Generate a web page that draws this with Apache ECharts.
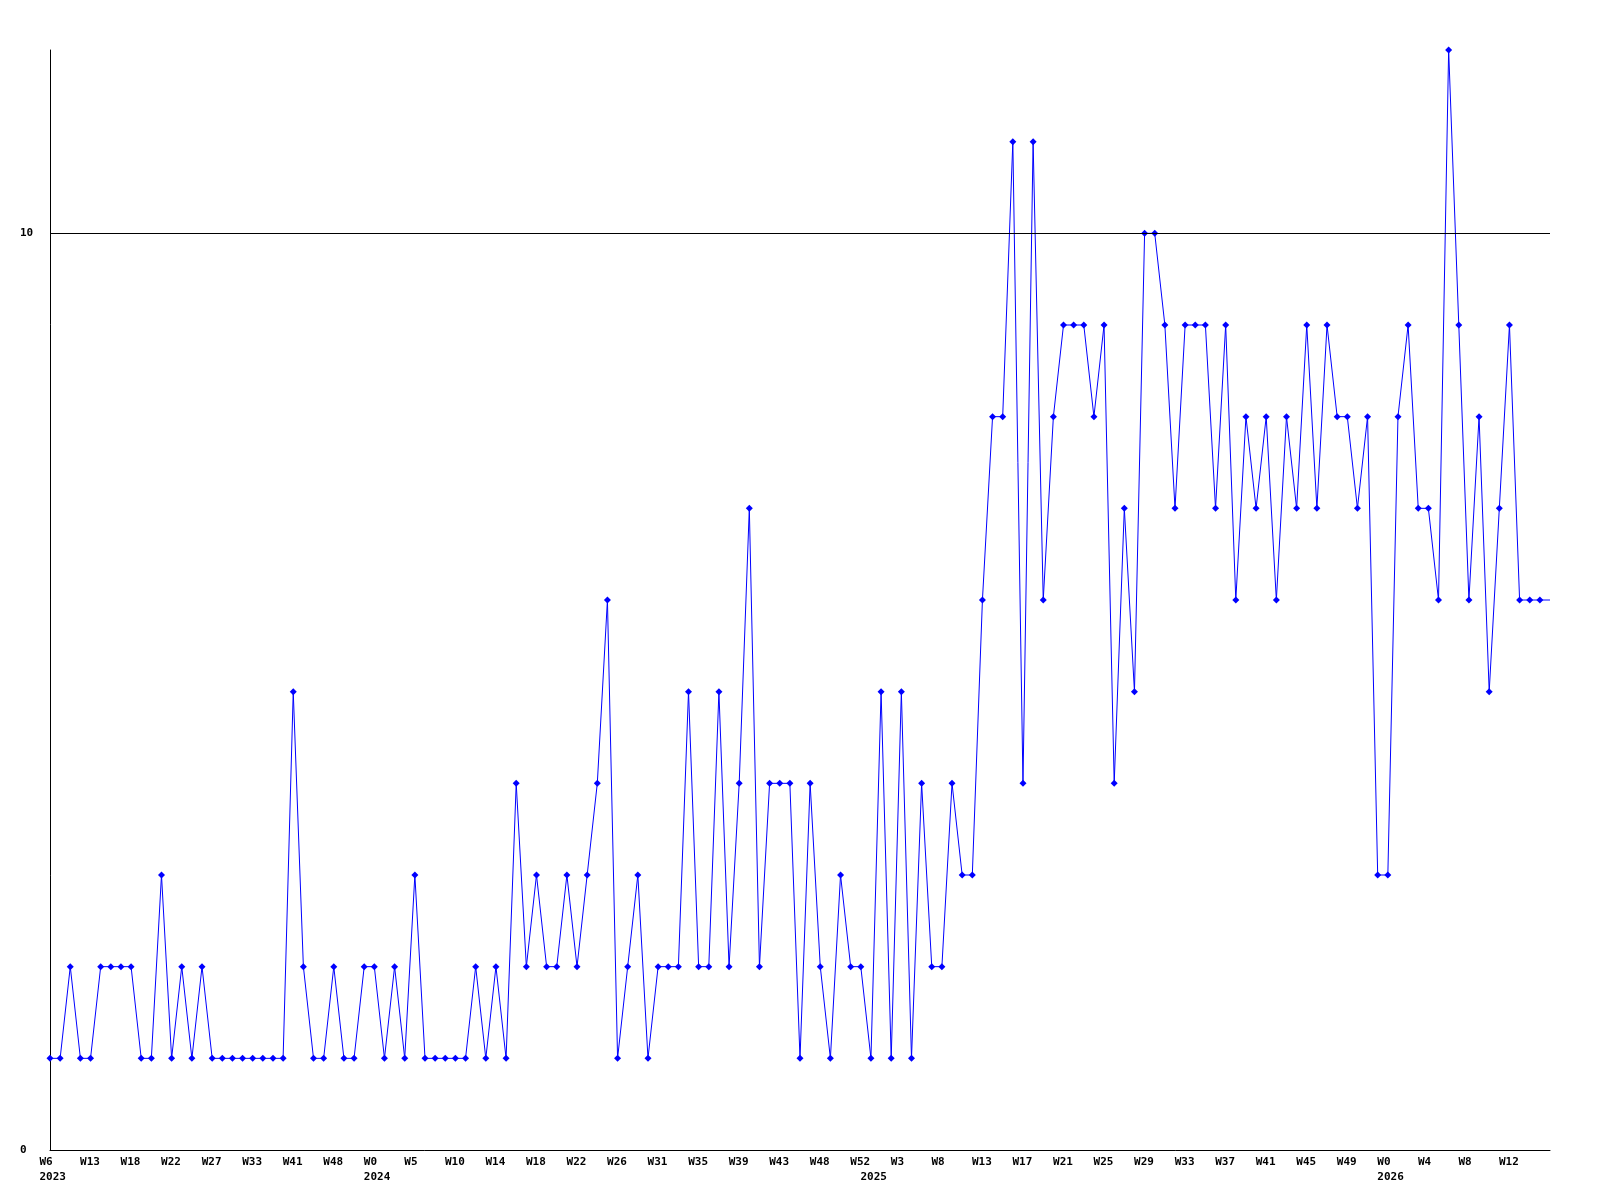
<!DOCTYPE html>
<html>
<head>
<meta charset="utf-8">
<title>Weekly chart</title>
<script src="https://cdn.jsdelivr.net/npm/echarts@6/dist/echarts.min.js"></script>
<style>
  html, body { margin: 0; padding: 0; background: #ffffff; }
  #chart { width: 1600px; height: 1200px; }
</style>
</head>
<body>
<div id="chart"></div>
<script>
// Weekly values (one per week, first = W6 2023). Last value continues the line to the axis end (no marker).
const values = [
  1, 1, 2, 1, 1, 2, 2, 2, 2, 1, 1, 3, 1, 2, 1, 2,
  1, 1, 1, 1, 1, 1, 1, 1, 5, 2, 1, 1, 2, 1, 1, 2,
  2, 1, 2, 1, 3, 1, 1, 1, 1, 1, 2, 1, 2, 1, 4, 2,
  3, 2, 2, 3, 2, 3, 4, 6, 1, 2, 3, 1, 2, 2, 2, 5,
  2, 2, 5, 2, 4, 7, 2, 4, 4, 4, 1, 4, 2, 1, 3, 2,
  2, 1, 5, 1, 5, 1, 4, 2, 2, 4, 3, 3, 6, 8, 8, 11,
  4, 11, 6, 8, 9, 9, 9, 8, 9, 4, 7, 5, 10, 10, 9, 7,
  9, 9, 9, 7, 9, 6, 8, 7, 8, 6, 8, 7, 9, 7, 9, 8,
  8, 7, 8, 3, 3, 8, 9, 7, 7, 6, 12, 9, 6, 8, 5, 7,
  9, 6, 6, 6, 6
];
// Tick labels, one every 4 weeks
const tickLabels = [
  'W6', 'W13', 'W18', 'W22', 'W27', 'W33', 'W41', 'W48',
  'W0', 'W5', 'W10', 'W14', 'W18', 'W22', 'W26', 'W31',
  'W35', 'W39', 'W43', 'W48', 'W52', 'W3', 'W8', 'W13',
  'W17', 'W21', 'W25', 'W29', 'W33', 'W37', 'W41', 'W45',
  'W49', 'W0', 'W4', 'W8', 'W12'
];
// Year labels and the week (point index) where each year starts
const yearLabels = ['2023', '2024', '2025', '2026'];
const yearPointIndex = [0, 32, 81, 132];
const tickStep = 4;
const yMax = 12;
const refLine = 10;

const categories = values.map((v, i) => String(i));
const seriesData = values.map((v, i) =>
  i === values.length - 1 ? { value: v, symbol: 'none' } : v
);

const chart = echarts.init(document.getElementById('chart'), null, { renderer: 'canvas' });
const font = 'DejaVu Sans Mono';

chart.setOption({
  backgroundColor: '#ffffff',
  animation: false,
  grid: { left: 50, right: 50, top: 50, bottom: 50, containLabel: false },
  xAxis: {
    type: 'category',
    data: categories,
    boundaryGap: false,
    axisLine: { show: true, lineStyle: { color: '#000', width: 1 } },
    axisTick: { show: false },
    splitLine: { show: false },
    axisLabel: {
      interval: function (idx) {
        return idx % tickStep === 0 || yearPointIndex.indexOf(idx) >= 0;
      },
      margin: 5,
      align: 'left',
      padding: [0, 0, 0, -10.5],
      color: '#000',
      fontFamily: font,
      fontWeight: 'bold',
      fontSize: 11,
      lineHeight: 15,
      formatter: function (val, idx) {
        const lab = idx % tickStep === 0 ? (tickLabels[idx / tickStep] || '') : '';
        const y = yearPointIndex.indexOf(idx);
        return y >= 0 ? lab + '\n' + yearLabels[y] : lab;
      }
    }
  },
  yAxis: {
    type: 'value',
    min: 0,
    max: yMax,
    interval: 10,
    axisLine: { show: true, lineStyle: { color: '#000', width: 1 } },
    axisTick: { show: false },
    splitLine: { show: false },
    axisLabel: {
      align: 'left',
      margin: 30,
      color: '#000',
      fontFamily: font,
      fontWeight: 'bold',
      fontSize: 11,
      formatter: function (v) { return (v === 0 || v === 10) ? String(v) : ''; }
    }
  },
  series: [{
    type: 'line',
    data: seriesData,
    symbol: 'diamond',
    symbolSize: 7,
    showAllSymbol: true,
    lineStyle: { color: '#0000ff', width: 1 },
    itemStyle: { color: '#0000ff' },
    emphasis: { disabled: true },
    markLine: {
      silent: true,
      symbol: ['none', 'none'],
      label: { show: false },
      lineStyle: { color: '#000', type: 'solid', width: 1 },
      data: [{ yAxis: refLine }]
    }
  }]
});
</script>
</body>
</html>
